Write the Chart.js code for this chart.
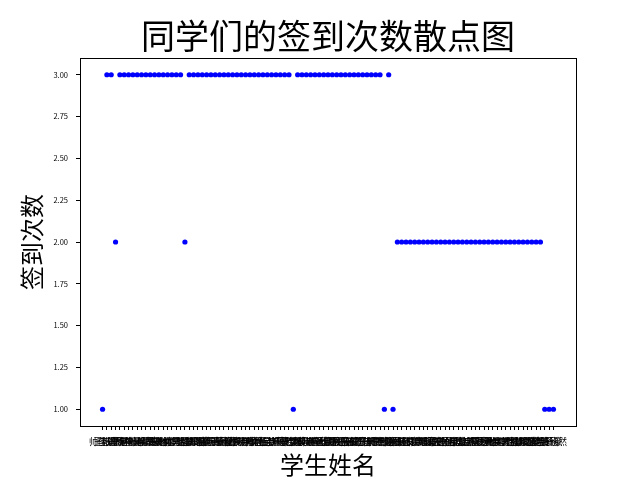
<!DOCTYPE html>
<html>
<head>
<meta charset="utf-8">
<script src="https://cdn.jsdelivr.net/npm/chart.js@4.4.1/dist/chart.umd.min.js"></script>
<style>
html,body{margin:0;padding:0;background:#fff;}
#wrap{width:640px;height:480px;}
</style>
</head>
<body>
<div id="wrap"><canvas id="c" width="640" height="480"></canvas></div>
<script>
const titleText = "同学们的签到次数散点图";
const xTitle = "学生姓名";
const yTitle = "签到次数";

const names = [
"帅佳琪","王浩然","李思雨","张子轩","刘欣怡","陈宇航","杨梓涵","赵一鸣","黄诗琪","周俊杰",
"吴雨桐","徐子墨","孙嘉怡","胡天佑","朱雅婷","高文博","林心怡","何志强","郭佳慧","马晨阳",
"罗梦洁","梁家豪","宋雨萱","郑浩宇","谢婉清","韩明轩","唐诗涵","冯子豪","于欣然","董俊熙",
"萧雅琴","程天宇","曹晓彤","袁博文","邓紫涵","许嘉乐","傅思远","沈佳怡","曾宇轩","彭梦瑶",
"吕浩天","苏雨欣","卢子健","蒋若曦","蔡文轩","贾思琪","丁俊宇","魏晓雪","薛志远","叶梓萱",
"阎子豪","余欣妍","潘宇辰","杜雨涵","戴俊豪","夏语嫣","钟浩轩","汪诗雨","田家乐","任雅琪",
"姜子轩","范佳宁","方明杰","石思彤","姚宇浩","谭欣悦","廖俊辉","邹雨萌","熊子涵","金浩轩",
"陆佳颖","郝文杰","孔梦琪","白宇轩","崔思雨","康俊熙","毛雅静","邱天佑","秦若涵","江子豪",
"史佳慧","顾宇航","侯欣怡","邵俊杰","孟诗琪","龙浩然","万雨桐","段子墨","雷嘉怡","钱天宇",
"汤雅婷","尹文博","黎心怡","易志强","常佳慧","武晨阳","乔梦洁","贺家豪","赖雨萱","龚浩宇",
"文婉清","庞明轩","樊诗涵","兰子豪","殷欣然"
];

const counts = [
1,3,3,2,
3,3,3,3,3,3,3,3,3,3,3,3,3,3,3,
2,
3,3,3,3,3,3,3,3,3,3,3,3,3,3,3,3,3,3,3,3,3,3,3,3,
1,
3,3,3,3,3,3,3,3,3,3,3,3,3,3,3,3,3,3,3,3,
1,3,1,
2,2,2,2,2,2,2,2,2,2,2,2,2,2,2,2,2,2,2,2,2,2,2,2,2,2,2,2,2,2,2,2,2,2,
1,1,1
];

const yTicks = [1.00,1.25,1.50,1.75,2.00,2.25,2.50,2.75,3.00];

const FONT = "'Noto Sans CJK SC', 'Noto Sans', sans-serif";

const framePlugin = {
  id: 'frame',
  afterDatasetsDraw(chart) {
    const a = chart.chartArea, ctx = chart.ctx;
    ctx.save();
    ctx.strokeStyle = '#000';
    ctx.lineWidth = 1;
    ctx.strokeRect(Math.round(a.left)+0.5, Math.round(a.top)+0.5, Math.round(a.right-a.left), Math.round(a.bottom-a.top));
    ctx.restore();
  }
};

const points = counts.map((v,i)=>({x:i, y:v}));
const n = names.length;
const xMargin = (n-1)*0.05;
const yMargin = (yTicks[yTicks.length-1]-yTicks[0])*0.05;

new Chart(document.getElementById('c'), {
  type: 'scatter',
  data: {
    datasets: [{
      data: points,
      backgroundColor: '#0000ff',
      borderColor: '#0000ff',
      borderWidth: 0,
      pointRadius: 2.6,
      pointHoverRadius: 2.6
    }]
  },
  plugins: [framePlugin],
  options: {
    responsive: false,
    animation: false,
    events: [],
    layout: { padding: { left: 0, right: 64, top: 0, bottom: 0 } },
    plugins: {
      legend: { display: false },
      tooltip: { enabled: false },
      title: {
        display: true,
        fullSize: false,
        text: titleText,
        color: '#000',
        font: { family: FONT, size: 34, weight: 'normal', lineHeight: 1.2 },
        padding: { top: 15.6, bottom: 1.6 }
      }
    },
    scales: {
      x: {
        type: 'linear',
        min: -xMargin,
        max: (n-1) + xMargin,
        afterBuildTicks(scale) { scale.ticks = names.map((_,i)=>({value:i})); },
        afterFit(scale) { scale.height = 54; },
        ticks: {
          autoSkip: false,
          maxRotation: 0,
          minRotation: 0,
          color: '#000',
          padding: 6,
          font: { family: FONT, size: 9 },
          callback(v) { return names[v]; }
        },
        grid: { drawOnChartArea: false, drawTicks: true, tickLength: 4, color: '#000' },
        border: { display: true, color: '#000', width: 1 },
        title: {
          display: true,
          text: xTitle,
          color: '#000',
          font: { family: FONT, size: 24, lineHeight: 1.2 },
          padding: { top: 0, bottom: 0.6 }
        }
      },
      y: {
        type: 'linear',
        min: yTicks[0] - yMargin,
        max: yTicks[yTicks.length-1] + yMargin,
        afterBuildTicks(scale) { scale.ticks = yTicks.map(v=>({value:v})); },
        afterFit(scale) { scale.width = 80; },
        ticks: {
          color: '#000',
          padding: 8,
          font: { family: FONT, size: 7.5 },
          callback(v) { return Number(v).toFixed(2); }
        },
        grid: { drawOnChartArea: false, drawTicks: true, tickLength: 4, color: '#000' },
        border: { display: true, color: '#000', width: 1 },
        title: {
          display: true,
          text: yTitle,
          color: '#000',
          font: { family: FONT, size: 24, lineHeight: 1.2 },
          padding: { top: 17.6, bottom: 0 }
        }
      }
    }
  }
});
</script>
</body>
</html>
